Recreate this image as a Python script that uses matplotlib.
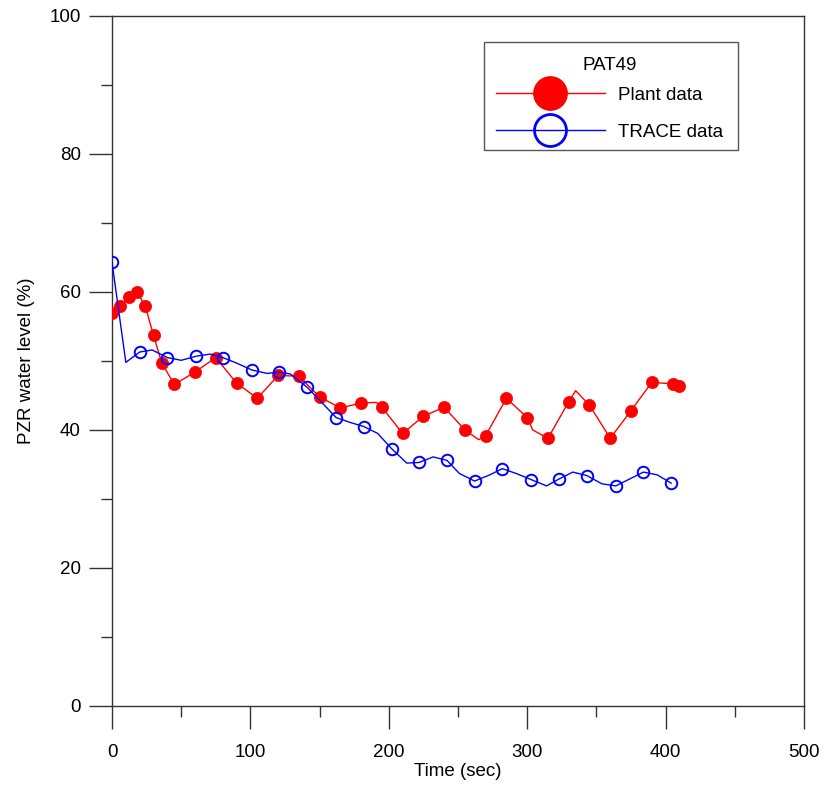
import matplotlib
matplotlib.use("Agg")
import numpy as np
import matplotlib.pyplot as plt
from matplotlib.lines import Line2D
from matplotlib.patches import Rectangle
from matplotlib.legend_handler import HandlerLine2D
from matplotlib.ticker import MultipleLocator

plt.rcParams['font.family'] = ['Liberation Sans', 'DejaVu Sans']

# plant data (markers)
plant_t = [0, 6, 12, 18, 24, 30, 36, 45, 60, 75, 90, 105, 120, 135, 150, 165,
           180, 195, 210, 225, 240, 255, 270, 285, 300, 315, 330, 345, 360,
           375, 390, 405, 410]
plant_v = [57.0, 57.9, 59.3, 60.0, 58.0, 53.7, 49.7, 46.6, 48.4, 50.5, 46.8,
           44.6, 47.9, 47.8, 44.8, 43.2, 43.9, 43.3, 39.5, 42.0, 43.3, 40.0,
           39.2, 44.6, 41.8, 38.8, 44.1, 43.6, 38.8, 42.8, 46.9, 46.7, 46.4]
# extra points on the plant line between markers
plant_extra_t = [191, 265, 304, 335]
plant_extra_v = [44.0, 38.6, 40.0, 45.7]

# TRACE data (markers)
trace_t = [0, 20, 40, 61, 80, 101, 121, 141, 162, 182, 202, 222, 242, 262,
           282, 303, 323, 343, 364, 384, 404]
trace_v = [64.3, 51.3, 50.5, 50.7, 50.5, 48.7, 48.4, 46.2, 41.8, 40.5, 37.3,
           35.3, 35.6, 32.6, 34.4, 32.8, 32.9, 33.4, 31.9, 33.9, 32.3]
# extra points on the TRACE line between markers
trace_extra_t = [10, 29, 50, 71, 90, 112, 129, 172, 192, 213, 232, 251, 273,
                 292, 314, 333, 354, 394]
trace_extra_v = [49.8, 51.6, 50.1, 51.0, 49.7, 48.2, 48.1, 41.1, 39.5, 35.2,
                 36.1, 33.7, 33.5, 33.7, 31.9, 33.9, 32.2, 33.5]


def merged(t1, v1, t2, v2):
    pts = sorted(zip(list(t1) + list(t2), list(v1) + list(v2)))
    return [p[0] for p in pts], [p[1] for p in pts]


class LowerHandler(HandlerLine2D):
    # puts the legend sample level with the label text
    def create_artists(self, legend, orig_handle, xdescent, ydescent,
                       width, height, fontsize, trans):
        arts = super().create_artists(legend, orig_handle, xdescent, ydescent,
                                      width, height, fontsize, trans)
        for a in arts:
            a.set_ydata(np.asarray(a.get_ydata()) - 3.0)
        return arts


W, H = 826, 789
fig = plt.figure(figsize=(W / 100, H / 100), dpi=100)
ax = fig.add_axes([112 / W, 1 - 706 / H, (804 - 112) / W, (706 - 16) / H])

red = '#ff0000'
blue = '#0000ff'

lt, lv = merged(plant_t, plant_v, plant_extra_t, plant_extra_v)
ax.plot(lt, lv, color=red, lw=1.0, zorder=2)
ax.plot(plant_t, plant_v, 'o', color=red, ms=8.8, mec=red, mew=0.5, zorder=3)

lt, lv = merged(trace_t, trace_v, trace_extra_t, trace_extra_v)
ax.plot(lt, lv, color=blue, lw=1.0, zorder=4)
ax.plot(trace_t, trace_v, 'o', mfc='none', mec=blue, ms=8.3, mew=1.4, zorder=5)

ax.set_xlim(0, 500)
ax.set_ylim(0, 100)
ax.xaxis.set_major_locator(MultipleLocator(100))
ax.xaxis.set_minor_locator(MultipleLocator(50))
ax.yaxis.set_major_locator(MultipleLocator(20))
ax.yaxis.set_minor_locator(MultipleLocator(10))

for s in ax.spines.values():
    s.set_color('#333333')
    s.set_linewidth(1.0)

ax.tick_params(which='major', direction='out', length=16.5, width=1.0,
               color='#333333', labelsize=13.5)
ax.tick_params(which='minor', direction='out', length=8, width=1.0,
               color='#333333')
ax.tick_params(axis='x', which='major', pad=11)
ax.tick_params(axis='y', which='major', pad=6)

ax.set_xlabel('Time (sec)', fontsize=13.5, labelpad=1)
ax.set_ylabel('PZR water level (%)', fontsize=13.5, labelpad=10)

# legend frame drawn separately so it can sit exactly
frame = Rectangle((484 / W, 1 - 150 / H), (738 - 484) / W, (150 - 42) / H,
                  transform=fig.transFigure, facecolor='white',
                  edgecolor='#555555', lw=1.0, zorder=6, clip_on=False)
ax.add_patch(frame)

h_plant = Line2D([], [], color=red, lw=1.0, marker='o', ms=24, mfc=red, mec=red)
h_trace = Line2D([], [], color=blue, lw=1.0, marker='o', ms=23, mfc='none',
                 mec=blue, mew=2.0)
leg = ax.legend([h_plant, h_trace], ['Plant data', 'TRACE data'],
                title='PAT49',
                handler_map={Line2D: LowerHandler()},
                fontsize=13.5, title_fontsize=13.5, loc='upper left',
                bbox_to_anchor=(496 / W, 1 - 57 / H),
                bbox_transform=fig.transFigure, borderaxespad=0,
                frameon=False, borderpad=0,
                handlelength=5.8, handletextpad=0.7, handleheight=2.37,
                labelspacing=0.19)
leg.set_zorder(7)

fig.savefig('out.png', dpi=100)
